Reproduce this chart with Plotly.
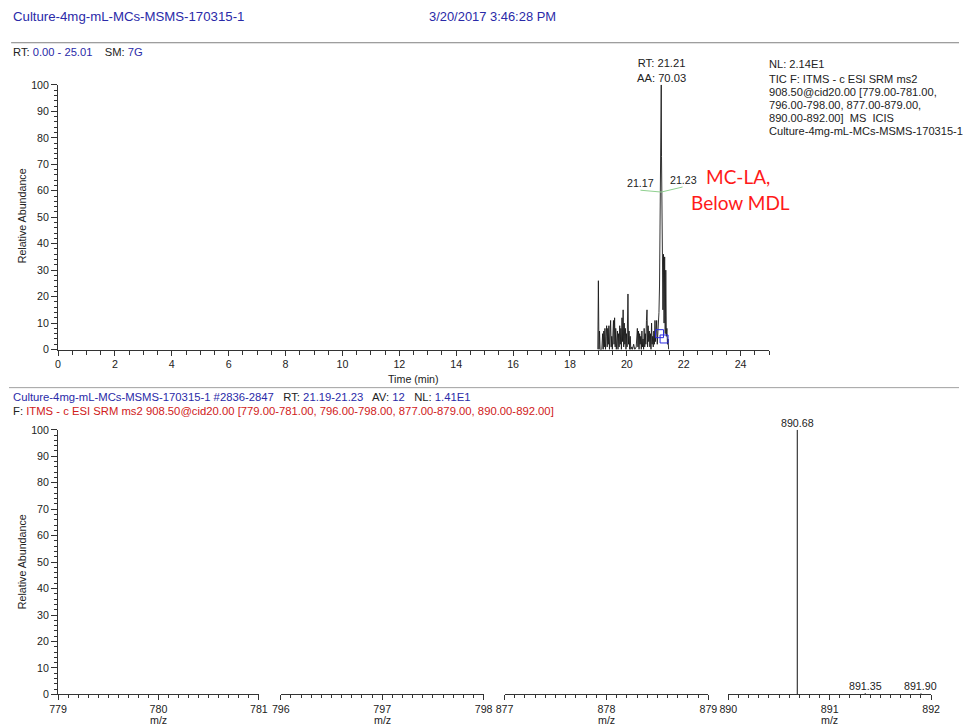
import plotly.graph_objects as go

# The photographed page keeps an 8px body margin and is shown at ~0.982 scale,
# so reference pixel positions are converted to figure coordinates below.
SX, SY = 0.9825, 0.981
OFF = 8
W, H = 968, 731
FS = 1 / SX  # font / length compensation


def px(r):
    return (r / SX - OFF) / W


def py(r):
    return 1 - ((r + 1.5) / SY - OFF) / H


FONT = "Liberation Sans, Arial, sans-serif"
BLUE = "#2a2aa8"
RED = "#d02020"
INK = "#222222"

# ---------------- data ----------------
# chromatogram (TIC) : retention time (min) vs relative abundance
rt_time = [18.98, 19.00, 19.02, 19.04, 19.06, 19.08, 19.12, 19.15, 19.17, 19.19,
           19.21, 19.23, 19.25, 19.27, 19.29, 19.31, 19.33, 19.35, 19.37, 19.39,
           19.41, 19.43, 19.45, 19.47, 19.49, 19.51, 19.53, 19.55, 19.57, 19.59,
           19.61, 19.63, 19.65, 19.67, 19.69, 19.71, 19.73, 19.75, 19.77, 19.79,
           19.81, 19.83, 19.85, 19.87, 19.89, 19.91, 19.93, 19.95, 19.97, 19.99,
           20.01, 20.04, 20.06, 20.08, 20.10, 20.12, 20.14, 20.18, 20.20, 20.24,
           20.28, 20.33, 20.37, 20.39, 20.41, 20.43, 20.45, 20.47, 20.49, 20.51,
           20.53, 20.55, 20.57, 20.59, 20.61, 20.63, 20.65, 20.67, 20.69, 20.71,
           20.73, 20.75, 20.77, 20.79, 20.81, 20.83, 20.85, 20.87, 20.89, 20.91,
           20.93, 20.95, 20.97, 20.99, 21.01, 21.03, 21.05, 21.07, 21.09, 21.11,
           21.13, 21.15, 21.17, 21.19, 21.21, 21.22, 21.23, 21.25, 21.27, 21.29,
           21.31, 21.33, 21.35, 21.37, 21.39, 21.41, 21.43, 21.45, 21.47]
rt_abund = [0, 26, 0, 7, 0, 0, 0, 6, 0, 7,
            1, 8, 0, 5, 9, 1, 8, 2, 9, 0,
            6, 11, 1, 5, 0, 7, 11, 2, 12, 1,
            8, 0, 4, 7, 0, 6, 1, 9, 2, 8,
            0, 12, 3, 15, 1, 10, 2, 8, 0, 6,
            1, 21, 2, 7, 0, 5, 0, 1, 0, 2,
            0, 1, 8, 1, 7, 0, 6, 2, 5, 0,
            7, 1, 4, 0, 8, 1, 6, 2, 11, 15,
            1, 9, 3, 7, 1, 6, 0, 10, 2, 5,
            1, 7, 2, 11, 3, 8, 11, 2, 6, 9,
            14, 24, 45, 60, 100, 73, 55, 38, 15, 36,
            10, 35, 6, 30, 5, 8, 2, 4, 0]

# integration markers (blue boxes) and peak baseline (green)
box_time = [21.15, 21.31]
box_abund = [6, 4]
base_time = [20.48, 21.21, 21.96]
base_abund = [60.2, 59.5, 61.4]
base_labels = ["21.17", "21.23"]

# spectrum : m/z segments and peaks
ms_segments = [(779, 781), (796, 798), (877, 879), (890, 892)]
ms_mz = [890.68, 891.35, 891.90]
ms_int = [100, 0.5, 0.4]
ms_labels = ["890.68", "891.35", "891.90"]

# ---------------- layout geometry ----------------
top_dom_x = [px(57), px(769)]
top_dom_y = [py(349), py(85)]
bot_dom_y = [py(693), py(429)]
seg_px = [(57, 258), (280, 483), (504, 708), (728, 931)]

fig = go.Figure()

# chromatogram trace
fig.add_trace(go.Scatter(x=rt_time, y=rt_abund, mode="lines",
                         line=dict(color="#1a1a1a", width=0.9),
                         xaxis="x", yaxis="y", showlegend=False, hoverinfo="skip"))
fig.add_trace(go.Scatter(x=base_time, y=base_abund, mode="lines",
                         line=dict(color="#8fd08f", width=1),
                         xaxis="x", yaxis="y", showlegend=False, hoverinfo="skip"))
fig.add_trace(go.Scatter(x=box_time, y=box_abund, mode="markers",
                         marker=dict(symbol="square-open", size=8, color="#2a2ae0",
                                     line=dict(width=1)),
                         xaxis="x", yaxis="y", showlegend=False, hoverinfo="skip"))

# spectrum sticks
for i in range(4):
    lo, hi = ms_segments[i]
    xs, ys = [], []
    for m, v in zip(ms_mz, ms_int):
        if lo <= m <= hi:
            xs += [m, m, None]
            ys += [0, v, None]
    fig.add_trace(go.Scatter(x=xs if xs else [None], y=ys if ys else [None], mode="lines",
                             line=dict(color="#111111", width=1),
                             xaxis="x" + (str(i + 2)), yaxis="y" + (str(i + 2)),
                             showlegend=False, hoverinfo="skip"))

TS = 10.5 * FS
tickfont = dict(family=FONT, size=TS, color=INK)
axcommon = dict(showgrid=False, zeroline=False, showline=True, linecolor="#333333",
                linewidth=1, ticks="outside", tickcolor="#333333", tickwidth=1,
                tickfont=tickfont)

layout = dict(
    width=W, height=H, margin=dict(l=0, r=0, t=0, b=0),
    paper_bgcolor="white", plot_bgcolor="white", showlegend=False,
    xaxis=dict(domain=top_dom_x, range=[0, 25.01], anchor="y", tick0=0, dtick=2,
               ticklen=5, minor=dict(dtick=0.5, ticklen=4, ticks="outside",
                                     tickcolor="#333333", showgrid=False), **axcommon),
    yaxis=dict(domain=top_dom_y, range=[0, 100], anchor="x", tick0=0, dtick=10,
               ticklen=6, minor=dict(dtick=2, ticklen=3, ticks="outside",
                                     tickcolor="#333333", showgrid=False), **axcommon),
)

for i, (lo, hi) in enumerate(ms_segments):
    n = str(i + 2)
    x0, x1 = seg_px[i]
    layout["xaxis" + n] = dict(domain=[px(x0), px(x1)], range=[lo, hi], anchor="y" + n,
                               tick0=lo, dtick=1, ticklen=5,
                               minor=dict(dtick=0.1, ticklen=2.5, ticks="outside",
                                          tickcolor="#333333", showgrid=False),
                               **axcommon)
    if i == 0:
        layout["yaxis" + n] = dict(domain=bot_dom_y, range=[0, 100], anchor="x" + n,
                                   tick0=0, dtick=10, ticklen=6,
                                   minor=dict(dtick=2, ticklen=3, ticks="outside",
                                              tickcolor="#333333", showgrid=False),
                                   **axcommon)
    else:
        layout["yaxis" + n] = dict(domain=bot_dom_y, range=[0, 100], anchor="x" + n,
                                   visible=False)

fig.update_layout(**layout)

ann = []


def txt(x, y, s, size=10.5, color=INK, xanchor="left", yanchor="middle", angle=0, family=FONT):
    ann.append(dict(x=x, y=y, xref="paper", yref="paper", text=s, showarrow=False,
                    xanchor=xanchor, yanchor=yanchor, textangle=angle, borderpad=0,
                    font=dict(family=family, size=size * FS, color=color)))


# header
txt(px(11), py(17), "Culture-4mg-mL-MCs-MSMS-170315-1", size=13, color=BLUE)
txt(px(427), py(17), "3/20/2017 3:46:28 PM", size=12.7, color=BLUE)
txt(px(11), py(52),
    f"RT: <span style='color:{BLUE}'>0.00 - 25.01</span>    SM: <span style='color:{BLUE}'>7G</span>",
    size=11)

# top right info block
info = ["NL: 2.14E1", "TIC F: ITMS - c ESI SRM ms2", "908.50@cid20.00 [779.00-781.00,",
        "796.00-798.00, 877.00-879.00,", "890.00-892.00]  MS  ICIS",
        "Culture-4mg-mL-MCs-MSMS-170315-1"]
info_y = [64, 79, 92, 105, 118, 131]
for s, yy in zip(info, info_y):
    txt(px(768), py(yy), s, size=10.9)

# peak label
ann.append(dict(x=21.21, y=100, xref="x", yref="y", text="RT: 21.21<br>AA: 70.03",
                showarrow=False, xanchor="center", yanchor="bottom", yshift=-1,
                font=dict(family=FONT, size=11 * FS, color=INK)))
# peak boundary labels
ann.append(dict(x=20.48, y=base_abund[0], xref="x", yref="y", text=base_labels[0],
                showarrow=False, xanchor="center", yanchor="bottom", yshift=-1,
                font=dict(family=FONT, size=TS, color=INK)))
ann.append(dict(x=21.98, y=base_abund[2], xref="x", yref="y", text=base_labels[1],
                showarrow=False, xanchor="center", yanchor="bottom", yshift=-1,
                font=dict(family=FONT, size=TS, color=INK)))

# red note
txt(px(738), py(176), "MC-LA,", size=18.7, color="#ff1a1a", xanchor="center", family="Lato, sans-serif")
txt(px(740), py(202), "Below MDL", size=18.7, color="#ff1a1a", xanchor="center", family="Lato, sans-serif")

# axis titles
txt(px(413), py(378), "Time (min)", xanchor="center")
txt(px(21), py(216), "Relative Abundance", xanchor="center", angle=-90)
txt(px(21), py(561), "Relative Abundance", xanchor="center", angle=-90)
for (x0, x1) in seg_px:
    txt(px((x0 + x1) / 2), py(711), "m/z", xanchor="center", yanchor="top")

# bottom header
txt(px(11), py(396),
    f"<span style='color:{BLUE}'>Culture-4mg-mL-MCs-MSMS-170315-1 #2836-2847</span>   RT: "
    f"<span style='color:{BLUE}'>21.19-21.23</span>   AV: <span style='color:{BLUE}'>12</span>"
    f"   NL: <span style='color:{BLUE}'>1.41E1</span>", size=11.1)
txt(px(11), py(410),
    f"F: <span style='color:{RED}'>ITMS - c ESI SRM ms2 908.50@cid20.00 [779.00-781.00, "
    f"796.00-798.00, 877.00-879.00, 890.00-892.00]</span>", size=11.1)

# spectrum peak labels
for m, v, lab in zip(ms_mz, ms_int, ms_labels):
    ann.append(dict(x=m, y=v, xref="x5", yref="y5", text=lab, showarrow=False,
                    xanchor="center", yanchor="bottom", yshift=-1,
                    font=dict(family=FONT, size=TS, color=INK)))

fig.update_layout(annotations=ann)

# separator lines
fig.add_shape(type="line", xref="paper", yref="paper", x0=px(10), x1=1, y0=py(43), y1=py(43),
              line=dict(color="#808080", width=1))
fig.add_shape(type="line", xref="paper", yref="paper", x0=0, x1=1, y0=py(387), y1=py(387),
              line=dict(color="#a0a0a0", width=1))

fig.write_html("out.html")
